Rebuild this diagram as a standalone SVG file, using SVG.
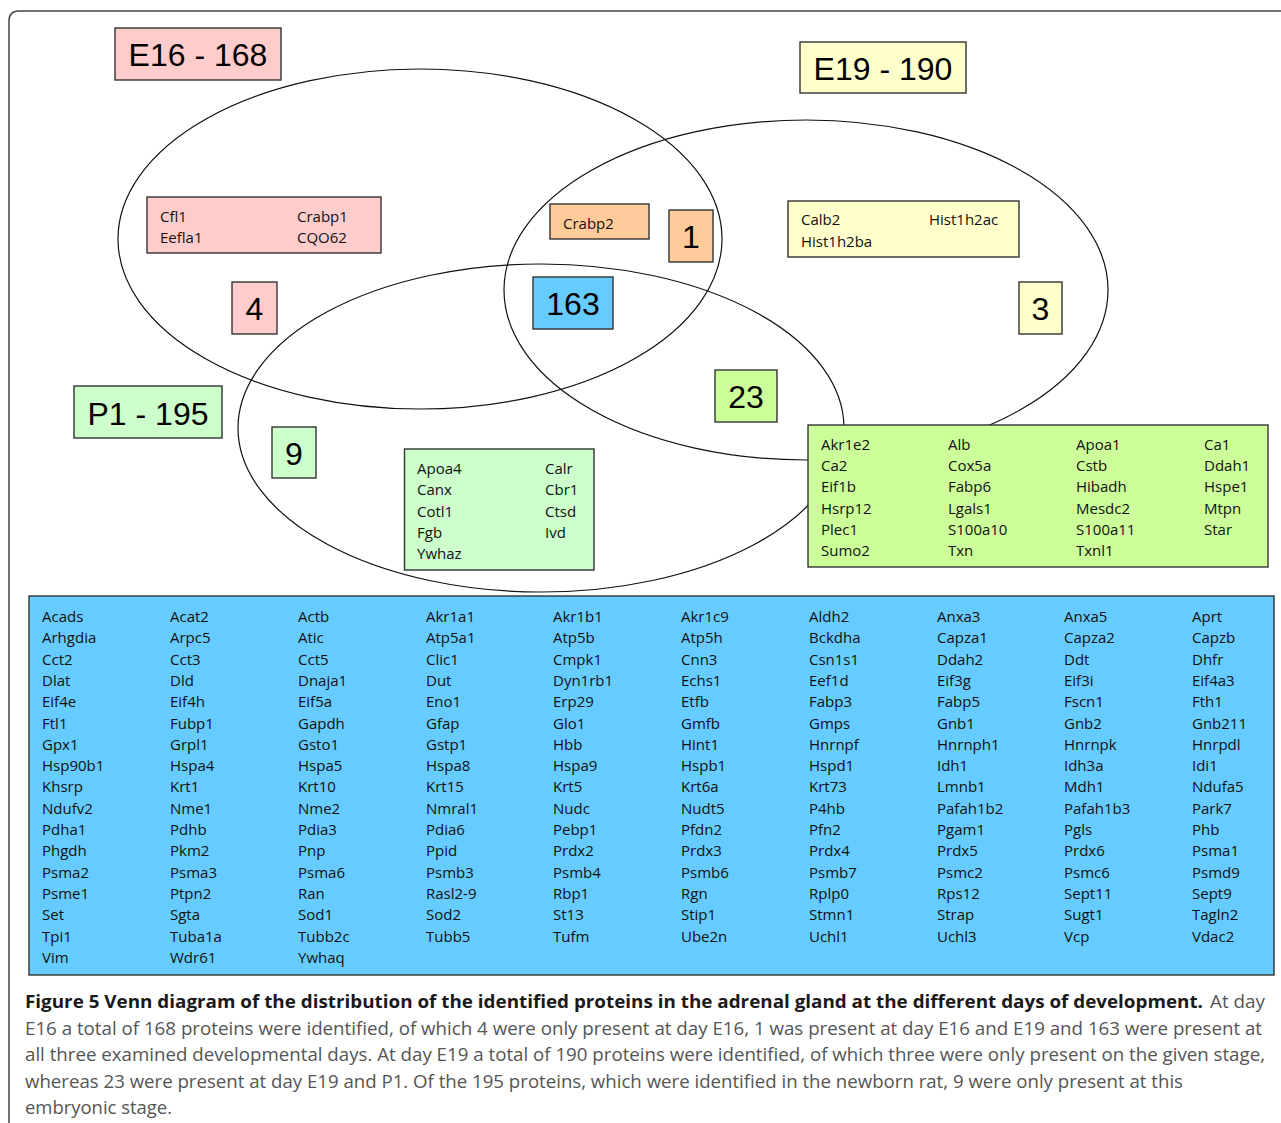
<svg xmlns="http://www.w3.org/2000/svg" width="1281" height="1123" viewBox="0 0 1281 1123">
<style>
.bx{stroke:#333;stroke-width:1.4}
.big{font-family:"Liberation Sans",Arial,sans-serif;font-size:32px;fill:#000;text-anchor:middle}
.ls{font-family:"Open Sans","DejaVu Sans",sans-serif;font-size:15px;fill:#111}
.ell{fill:none;stroke:#111;stroke-width:1.2}
.cap{font-family:"Open Sans","DejaVu Sans",sans-serif;font-size:18px}
.capb{font-weight:bold;fill:#1a1a1a}
.capr{fill:#555}
.pink{fill:#FFCCCC}.yel{fill:#FFFFCC}.grn{fill:#CCFFCC}.lime{fill:#CCFF99}.org{fill:#FFCC99}.blue{fill:#66CCFF}
</style>
<rect width="1281" height="1123" fill="#fff"/>
<path d="M9,1123 V21 Q9,11 19,11 H1281" fill="none" stroke="#444" stroke-width="1.5"/>
<g id="sets">
<ellipse class="ell" cx="420" cy="239" rx="302" ry="170"/>
<ellipse class="ell" cx="806" cy="290" rx="302" ry="170"/>
<ellipse class="ell" cx="541" cy="428" rx="303" ry="164"/>
</g>
<g id="label-e16"><rect class="bx pink" x="115" y="28" width="166" height="52"/><text class="big" x="198" y="66">E16 - 168</text></g>
<g id="label-e19"><rect class="bx yel" x="800" y="42" width="166" height="51"/><text class="big" x="883" y="80">E19 - 190</text></g>
<g id="label-p1"><rect class="bx grn" x="74" y="386" width="148" height="52"/><text class="big" x="148" y="425">P1 - 195</text></g>
<g id="list-e16"><rect class="bx pink" x="147" y="197" width="234" height="56"/>
<text class="ls" x="160" y="222">Cfl1</text><text class="ls" x="297" y="222">Crabp1</text>
<text class="ls" x="160" y="243">Eefla1</text><text class="ls" x="297" y="243">CQO62</text></g>
<g id="list-e16-e19"><rect class="bx org" x="550" y="204" width="99" height="35"/><text class="ls" x="563" y="229">Crabp2</text></g>
<g id="count-1"><rect class="bx org" x="669" y="210" width="44" height="52"/><text class="big" x="691" y="248">1</text></g>
<g id="count-4"><rect class="bx pink" x="232" y="282" width="45" height="52"/><text class="big" x="254.5" y="320">4</text></g>
<g id="count-163"><rect class="bx blue" x="533" y="277" width="80" height="52"/><text class="big" x="573" y="315">163</text></g>
<g id="list-e19"><rect class="bx yel" x="788" y="201" width="231" height="56"/>
<text class="ls" x="801" y="225">Calb2</text><text class="ls" x="929" y="225">Hist1h2ac</text>
<text class="ls" x="801" y="247">Hist1h2ba</text></g>
<g id="count-3"><rect class="bx yel" x="1019" y="282" width="43" height="52"/><text class="big" x="1040.5" y="320">3</text></g>
<g id="count-23"><rect class="bx lime" x="715" y="370" width="62" height="52"/><text class="big" x="746" y="408">23</text></g>
<g id="count-9"><rect class="bx grn" x="272" y="427" width="44" height="51"/><text class="big" x="294" y="465">9</text></g>
<g id="list-p1"><rect class="bx grn" x="404.5" y="449" width="189.5" height="121"/>
<text class="ls" x="417" y="474">Apoa4</text><text class="ls" x="545" y="474">Calr</text>
<text class="ls" x="417" y="495">Canx</text><text class="ls" x="545" y="495">Cbr1</text>
<text class="ls" x="417" y="517">Cotl1</text><text class="ls" x="545" y="517">Ctsd</text>
<text class="ls" x="417" y="538">Fgb</text><text class="ls" x="545" y="538">Ivd</text>
<text class="ls" x="417" y="559">Ywhaz</text></g>
<g id="list-e19-p1"><rect class="bx lime" x="808" y="425" width="460" height="142"/>
<text class="ls" y="450"><tspan x="821">Akr1e2</tspan><tspan x="948">Alb</tspan><tspan x="1076">Apoa1</tspan><tspan x="1204">Ca1</tspan></text>
<text class="ls" y="471"><tspan x="821">Ca2</tspan><tspan x="948">Cox5a</tspan><tspan x="1076">Cstb</tspan><tspan x="1204">Ddah1</tspan></text>
<text class="ls" y="492"><tspan x="821">Eif1b</tspan><tspan x="948">Fabp6</tspan><tspan x="1076">Hibadh</tspan><tspan x="1204">Hspe1</tspan></text>
<text class="ls" y="514"><tspan x="821">Hsrp12</tspan><tspan x="948">Lgals1</tspan><tspan x="1076">Mesdc2</tspan><tspan x="1204">Mtpn</tspan></text>
<text class="ls" y="535"><tspan x="821">Plec1</tspan><tspan x="948">S100a10</tspan><tspan x="1076">S100a11</tspan><tspan x="1204">Star</tspan></text>
<text class="ls" y="556"><tspan x="821">Sumo2</tspan><tspan x="948">Txn</tspan><tspan x="1076">Txnl1</tspan></text>
</g>
<g id="list-all"><rect class="bx blue" x="29" y="596" width="1245" height="379"/>
<text class="ls" y="622"><tspan x="42">Acads</tspan><tspan x="170">Acat2</tspan><tspan x="298">Actb</tspan><tspan x="426">Akr1a1</tspan><tspan x="553">Akr1b1</tspan><tspan x="681">Akr1c9</tspan><tspan x="809">Aldh2</tspan><tspan x="937">Anxa3</tspan><tspan x="1064">Anxa5</tspan><tspan x="1192">Aprt</tspan></text>
<text class="ls" y="643.3"><tspan x="42">Arhgdia</tspan><tspan x="170">Arpc5</tspan><tspan x="298">Atic</tspan><tspan x="426">Atp5a1</tspan><tspan x="553">Atp5b</tspan><tspan x="681">Atp5h</tspan><tspan x="809">Bckdha</tspan><tspan x="937">Capza1</tspan><tspan x="1064">Capza2</tspan><tspan x="1192">Capzb</tspan></text>
<text class="ls" y="664.6"><tspan x="42">Cct2</tspan><tspan x="170">Cct3</tspan><tspan x="298">Cct5</tspan><tspan x="426">Clic1</tspan><tspan x="553">Cmpk1</tspan><tspan x="681">Cnn3</tspan><tspan x="809">Csn1s1</tspan><tspan x="937">Ddah2</tspan><tspan x="1064">Ddt</tspan><tspan x="1192">Dhfr</tspan></text>
<text class="ls" y="685.9"><tspan x="42">Dlat</tspan><tspan x="170">Dld</tspan><tspan x="298">Dnaja1</tspan><tspan x="426">Dut</tspan><tspan x="553">Dyn1rb1</tspan><tspan x="681">Echs1</tspan><tspan x="809">Eef1d</tspan><tspan x="937">Eif3g</tspan><tspan x="1064">Eif3i</tspan><tspan x="1192">Eif4a3</tspan></text>
<text class="ls" y="707.2"><tspan x="42">Eif4e</tspan><tspan x="170">Eif4h</tspan><tspan x="298">Eif5a</tspan><tspan x="426">Eno1</tspan><tspan x="553">Erp29</tspan><tspan x="681">Etfb</tspan><tspan x="809">Fabp3</tspan><tspan x="937">Fabp5</tspan><tspan x="1064">Fscn1</tspan><tspan x="1192">Fth1</tspan></text>
<text class="ls" y="728.5"><tspan x="42">Ftl1</tspan><tspan x="170">Fubp1</tspan><tspan x="298">Gapdh</tspan><tspan x="426">Gfap</tspan><tspan x="553">Glo1</tspan><tspan x="681">Gmfb</tspan><tspan x="809">Gmps</tspan><tspan x="937">Gnb1</tspan><tspan x="1064">Gnb2</tspan><tspan x="1192">Gnb211</tspan></text>
<text class="ls" y="749.8"><tspan x="42">Gpx1</tspan><tspan x="170">Grpl1</tspan><tspan x="298">Gsto1</tspan><tspan x="426">Gstp1</tspan><tspan x="553">Hbb</tspan><tspan x="681">Hint1</tspan><tspan x="809">Hnrnpf</tspan><tspan x="937">Hnrnph1</tspan><tspan x="1064">Hnrnpk</tspan><tspan x="1192">Hnrpdl</tspan></text>
<text class="ls" y="771.1"><tspan x="42">Hsp90b1</tspan><tspan x="170">Hspa4</tspan><tspan x="298">Hspa5</tspan><tspan x="426">Hspa8</tspan><tspan x="553">Hspa9</tspan><tspan x="681">Hspb1</tspan><tspan x="809">Hspd1</tspan><tspan x="937">Idh1</tspan><tspan x="1064">Idh3a</tspan><tspan x="1192">Idi1</tspan></text>
<text class="ls" y="792.4"><tspan x="42">Khsrp</tspan><tspan x="170">Krt1</tspan><tspan x="298">Krt10</tspan><tspan x="426">Krt15</tspan><tspan x="553">Krt5</tspan><tspan x="681">Krt6a</tspan><tspan x="809">Krt73</tspan><tspan x="937">Lmnb1</tspan><tspan x="1064">Mdh1</tspan><tspan x="1192">Ndufa5</tspan></text>
<text class="ls" y="813.7"><tspan x="42">Ndufv2</tspan><tspan x="170">Nme1</tspan><tspan x="298">Nme2</tspan><tspan x="426">Nmral1</tspan><tspan x="553">Nudc</tspan><tspan x="681">Nudt5</tspan><tspan x="809">P4hb</tspan><tspan x="937">Pafah1b2</tspan><tspan x="1064">Pafah1b3</tspan><tspan x="1192">Park7</tspan></text>
<text class="ls" y="835"><tspan x="42">Pdha1</tspan><tspan x="170">Pdhb</tspan><tspan x="298">Pdia3</tspan><tspan x="426">Pdia6</tspan><tspan x="553">Pebp1</tspan><tspan x="681">Pfdn2</tspan><tspan x="809">Pfn2</tspan><tspan x="937">Pgam1</tspan><tspan x="1064">Pgls</tspan><tspan x="1192">Phb</tspan></text>
<text class="ls" y="856.3"><tspan x="42">Phgdh</tspan><tspan x="170">Pkm2</tspan><tspan x="298">Pnp</tspan><tspan x="426">Ppid</tspan><tspan x="553">Prdx2</tspan><tspan x="681">Prdx3</tspan><tspan x="809">Prdx4</tspan><tspan x="937">Prdx5</tspan><tspan x="1064">Prdx6</tspan><tspan x="1192">Psma1</tspan></text>
<text class="ls" y="877.6"><tspan x="42">Psma2</tspan><tspan x="170">Psma3</tspan><tspan x="298">Psma6</tspan><tspan x="426">Psmb3</tspan><tspan x="553">Psmb4</tspan><tspan x="681">Psmb6</tspan><tspan x="809">Psmb7</tspan><tspan x="937">Psmc2</tspan><tspan x="1064">Psmc6</tspan><tspan x="1192">Psmd9</tspan></text>
<text class="ls" y="898.9"><tspan x="42">Psme1</tspan><tspan x="170">Ptpn2</tspan><tspan x="298">Ran</tspan><tspan x="426">Rasl2-9</tspan><tspan x="553">Rbp1</tspan><tspan x="681">Rgn</tspan><tspan x="809">Rplp0</tspan><tspan x="937">Rps12</tspan><tspan x="1064">Sept11</tspan><tspan x="1192">Sept9</tspan></text>
<text class="ls" y="920.2"><tspan x="42">Set</tspan><tspan x="170">Sgta</tspan><tspan x="298">Sod1</tspan><tspan x="426">Sod2</tspan><tspan x="553">St13</tspan><tspan x="681">Stip1</tspan><tspan x="809">Stmn1</tspan><tspan x="937">Strap</tspan><tspan x="1064">Sugt1</tspan><tspan x="1192">Tagln2</tspan></text>
<text class="ls" y="941.5"><tspan x="42">Tpi1</tspan><tspan x="170">Tuba1a</tspan><tspan x="298">Tubb2c</tspan><tspan x="426">Tubb5</tspan><tspan x="553">Tufm</tspan><tspan x="681">Ube2n</tspan><tspan x="809">Uchl1</tspan><tspan x="937">Uchl3</tspan><tspan x="1064">Vcp</tspan><tspan x="1192">Vdac2</tspan></text>
<text class="ls" y="962.8"><tspan x="42">Vim</tspan><tspan x="170">Wdr61</tspan><tspan x="298">Ywhaq</tspan></text>
</g>
<g id="caption" class="cap">
<text x="25" y="1008"><tspan class="capb" textLength="1178" lengthAdjust="spacingAndGlyphs">Figure 5 Venn diagram of the distribution of the identified proteins in the adrenal gland at the different days of development.</tspan><tspan class="capr" x="1210" textLength="55" lengthAdjust="spacingAndGlyphs">At day</tspan></text>
<text class="capr" x="25" y="1035" textLength="1237" lengthAdjust="spacingAndGlyphs">E16 a total of 168 proteins were identified, of which 4 were only present at day E16, 1 was present at day E16 and E19 and 163 were present at</text>
<text class="capr" x="25" y="1061" textLength="1240" lengthAdjust="spacingAndGlyphs">all three examined developmental days. At day E19 a total of 190 proteins were identified, of which three were only present on the given stage,</text>
<text class="capr" x="25" y="1088" textLength="1158" lengthAdjust="spacingAndGlyphs">whereas 23 were present at day E19 and P1. Of the 195 proteins, which were identified in the newborn rat, 9 were only present at this</text>
<text class="capr" x="25" y="1114" textLength="147" lengthAdjust="spacingAndGlyphs">embryonic stage.</text>
</g>
</svg>
